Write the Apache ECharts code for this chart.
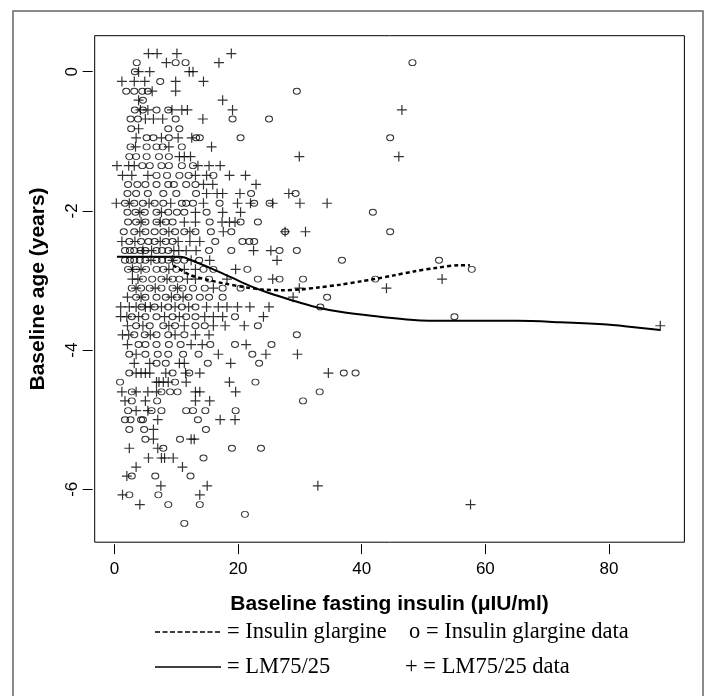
<!DOCTYPE html>
<html>
<head>
<meta charset="utf-8">
<script src="https://cdn.jsdelivr.net/npm/echarts@6/dist/echarts.min.js"></script>
<style>
html,body{margin:0;padding:0;background:#fff;}
#chart{width:711px;height:696px;}
</style>
</head>
<body>
<div id="chart"></div>
<script>
// baseline age rows (years), top to bottom
var ageRows = [0.26, 0.13, 0, -0.14, -0.28, -0.41, -0.55, -0.68, -0.82, -0.95,
  -1.08, -1.22, -1.35, -1.49, -1.62, -1.75, -1.89, -2.02, -2.16, -2.30,
  -2.44, -2.57, -2.71, -2.84, -2.98, -3.11, -3.24, -3.38, -3.52, -3.65,
  -3.78, -3.92, -4.06, -4.19, -4.33, -4.46, -4.60, -4.73, -4.87, -5.00,
  -5.14, -5.28, -5.41, -5.55, -5.68, -5.81, -5.95, -6.08, -6.22, -6.36, -6.49];

// fasting insulin of the Insulin glargine patients, one list per age row
var glargineInsulin = [
  [], [3.6, 9.9, 11.5, 48.2], [3.3], [7.4], [1.9, 3.2, 4.5, 5.4, 29.5],
  [4.6], [3.3, 4.6, 6.8, 8.7], [2.6, 3.8, 9.9, 19.1, 25.0], [2.7, 8.7, 10.5],
  [5.2, 6.3, 8.8, 13.2, 13.8, 20.4, 44.6],
  [2.6, 5.2, 6.8, 7.8, 10.9], [2.4, 3.5, 5.2, 7.2, 8.8], [4.5, 5.7, 7.6, 8.8, 10.9, 12.7],
  [6.8, 8.5, 10.5, 12.0, 16.0], [2.2, 3.7, 5.0, 6.8, 8.7, 9.6, 11.6, 13.1],
  [2.1, 3.5, 5.4, 7.9, 10.0, 13.2, 22.1, 29.3],
  [1.7, 3.2, 4.6, 6.5, 7.9, 10.9, 11.6, 12.7, 17.0, 22.6, 25.1],
  [2.1, 3.4, 4.9, 6.8, 8.7, 10.1, 11.3, 14.9, 41.8],
  [2.2, 3.5, 5.0, 6.8, 8.3, 9.4, 15.4, 20.4, 23.2],
  [1.5, 3.2, 5.0, 6.5, 7.9, 9.8, 11.3, 13.1, 15.6, 18.9, 27.6, 44.6],
  [2.4, 4.3, 5.5, 6.5, 8.3, 9.4, 16.3, 20.7, 21.8, 22.6],
  [1.7, 2.5, 3.2, 4.2, 5.0, 6.8, 7.7, 8.7, 15.3, 18.9, 26.7, 29.5],
  [1.7, 2.5, 3.2, 4.1, 5.0, 6.8, 7.7, 8.7, 10.1, 11.3, 13.7, 36.8, 52.5],
  [2.2, 3.5, 5.1, 6.8, 7.9, 10.0, 14.4, 16.0, 21.5, 57.8],
  [4.6, 6.1, 7.6, 9.4, 10.5, 15.3, 23.2, 26.7, 30.5, 42.2],
  [2.8, 4.3, 5.7, 7.6, 9.4, 11.0, 12.7, 14.6, 17.5, 20.4],
  [3.5, 5.0, 6.8, 8.3, 10.1, 12.0, 13.8, 15.3, 17.5, 34.4],
  [4.4, 6.5, 8.7, 10.9, 13.1, 33.3],
  [2.8, 5.0, 6.8, 9.4, 11.6, 13.1, 19.5, 55.0],
  [3.5, 5.7, 7.9, 9.8, 13.1, 14.6, 23.2],
  [3.2, 4.9, 6.8, 8.7, 11.3, 29.5],
  [3.9, 5.0, 6.8, 8.8, 10.7, 15.5, 19.5, 25.4],
  [2.4, 5.0, 7.0, 8.7, 11.1, 13.6, 22.3],
  [6.8, 8.3, 15.1, 23.4],
  [2.4, 9.4, 12.1, 37.1, 39.0],
  [0.9, 9.8, 22.8],
  [2.8, 7.6, 9.0, 10.2, 33.2],
  [2.8, 6.9, 30.5],
  [2.2, 6.0, 7.6, 11.6, 12.7, 14.7, 19.6],
  [1.7, 2.6, 4.3, 4.6, 13.5],
  [2.4, 4.8, 14.8], [5.0, 10.6], [7.9, 19.0, 23.7], [14.4], [],
  [2.8, 6.6, 12.3], [], [2.4, 7.1], [8.7, 13.8], [21.1], [11.3]
];

// fasting insulin of the LM75/25 patients, one list per age row
var lmInsulin = [
  [5.5, 6.9, 10.1, 18.9], [8.4, 16.9], [3.9, 5.7, 12.1, 12.7], [1.2, 3.2, 4.9, 9.9, 14.4],
  [6.1, 9.9], [3.9, 17.5], [4.2, 5.4, 9.3, 10.9, 11.8, 19.1, 46.5],
  [5.0, 6.3, 7.8, 14.3], [3.9], [3.5, 7.6, 10.3, 12.5],
  [3.4, 8.8, 15.7], [10.5, 11.3, 12.3, 29.9, 46.0], [0.4, 2.3, 3.2, 13.5, 15.3, 17.1],
  [1.3, 2.8, 5.4, 13.1, 14.9, 18.6, 21.2], [14.4, 15.9, 22.9],
  [14.9, 16.6, 17.5, 20.3, 28.2], [0.3, 2.4, 5.6, 9.1, 14.4, 19.9, 22.0, 25.6, 30.0, 34.4],
  [4.1, 7.6, 13.1, 17.5, 20.4], [4.3, 7.4, 11.3, 13.1, 17.4, 18.6, 19.5],
  [4.1, 8.8, 12.2, 17.6, 27.6, 30.9],
  [1.2, 3.3, 7.4, 10.3, 12.2, 13.8], [4.6, 6.0, 9.6, 10.4, 11.6, 13.2, 22.5, 25.3],
  [5.9, 9.4, 12.4, 15.4, 26.3],
  [2.9, 4.3, 8.8, 11.3, 13.1, 19.6], [2.9, 3.8, 8.5, 11.8, 13.1, 18.2, 25.6, 53.0],
  [3.5, 6.6, 10.2, 16.0, 29.9, 44.0],
  [2.1, 4.3, 9.2, 11.1, 28.9], [1.0, 2.4, 3.5, 5.0, 5.8, 7.6, 9.8, 12.0, 14.9, 16.8, 18.2, 19.9, 21.9, 25.0],
  [1.0, 2.0, 3.9, 8.1, 10.5, 14.6, 16.0, 17.5, 24.1], [2.1, 4.6, 8.8, 11.3, 16.0, 17.9, 21.0, 88.3],
  [1.3, 2.3, 5.8, 9.8, 13.1, 15.3], [2.1, 12.4, 14.2, 21.3], [3.5, 16.8, 24.5, 29.6],
  [3.2, 5.7, 10.5, 11.3, 18.8], [3.5, 4.3, 5.0, 5.7, 8.3, 11.5, 13.8, 34.6],
  [6.8, 7.2, 7.9, 8.7, 11.6, 18.6], [1.2, 3.5, 5.4, 6.8, 13.1, 13.8, 19.6],
  [1.7, 5.0, 13.1, 15.4], [3.5, 5.4], [7.0, 17.1, 19.5],
  [6.3], [6.3, 12.4, 12.9], [2.4, 7.0], [5.5, 7.6, 8.1, 9.5], [3.5, 11.0],
  [2.0], [7.5, 15.0, 32.9], [1.3, 13.8], [4.1, 57.6], [], []
];

// fitted curves
var glargineCurve = [[9.5, -2.78], [12.2, -2.92], [15, -2.99], [17.6, -3.04], [21.4, -3.10],
  [24, -3.13], [27, -3.14], [30, -3.13], [33, -3.10], [36.5, -3.06], [40, -3.01],
  [42, -2.98], [45, -2.93], [48.4, -2.87], [52, -2.82], [55.9, -2.78], [57.5, -2.78]];
var lmCurve = [[0.4, -2.66], [10.6, -2.66], [13, -2.73], [16, -2.84], [19, -2.96], [22, -3.08],
  [25, -3.18], [28.9, -3.29], [32.5, -3.38], [36.5, -3.45], [41.9, -3.51], [48.9, -3.57],
  [55.9, -3.58], [65.1, -3.58], [72.1, -3.60], [79, -3.63], [82.9, -3.66], [88.3, -3.71]];

var xTicks = [0, 20, 40, 60, 80];
var yTicks = [0, -2, -4, -6];

function toPoints(rows) {
  var pts = [];
  for (var i = 0; i < rows.length; i++) {
    for (var j = 0; j < rows[i].length; j++) {
      pts.push([rows[i][j], ageRows[i]]);
    }
  }
  return pts;
}

var plusPath = 'path://M4.4,0H5.6V4.4H10V5.6H5.6V10H4.4V5.6H0V4.4H4.4Z';
var sans = 'Liberation Sans';
var legendFont = '22.5px "Liberation Serif"';

var chart = echarts.init(document.getElementById('chart'));
chart.setOption({
  animation: false,
  backgroundColor: '#fff',
  grid: {
    left: 94.7, top: 35.7, width: 589.7, height: 506.5,
    show: true, borderColor: '#000', borderWidth: 1
  },
  xAxis: {
    type: 'value', min: -3.2, max: 92.2, offset: 2,
    splitLine: { show: false },
    axisLine: { show: false, onZero: false },
    axisTick: { show: true, customValues: xTicks, length: 10, lineStyle: { color: '#000' } },
    axisLabel: { customValues: xTicks, color: '#000', fontFamily: sans, fontSize: 17, margin: 17 },
    name: 'Baseline fasting insulin (\u03bcIU/ml)',
    nameLocation: 'middle', nameGap: 50,
    nameTextStyle: { color: '#000', fontFamily: sans, fontWeight: 'bold', fontSize: 21 }
  },
  yAxis: {
    type: 'value', min: -6.76, max: 0.517, offset: 2,
    splitLine: { show: false },
    axisLine: { show: false, onZero: false },
    axisTick: { show: true, customValues: yTicks, length: 10, lineStyle: { color: '#000' } },
    axisLabel: { customValues: yTicks, rotate: 90, color: '#000', fontFamily: sans, fontSize: 17, margin: 12 },
    name: 'Baseline age (years)',
    nameLocation: 'middle', nameGap: 44,
    nameTextStyle: { color: '#000', fontFamily: sans, fontWeight: 'bold', fontSize: 21 }
  },
  series: [
    {
      name: 'Insulin glargine data', type: 'scatter',
      data: toPoints(glargineInsulin),
      symbol: 'circle', symbolSize: [7, 6],
      itemStyle: { color: 'rgba(0,0,0,0)', borderColor: '#000', borderWidth: 1 }
    },
    {
      name: 'LM75/25 data', type: 'scatter',
      data: toPoints(lmInsulin),
      symbol: plusPath, symbolSize: 10,
      itemStyle: { color: '#000' }
    },
    {
      name: 'Insulin glargine', type: 'line', data: glargineCurve,
      showSymbol: false, smooth: 0.3,
      lineStyle: { color: '#000', width: 2.5, type: [4, 3] }
    },
    {
      name: 'LM75/25', type: 'line', data: lmCurve,
      showSymbol: false, smooth: 0.3,
      lineStyle: { color: '#000', width: 2 }
    }
  ],
  graphic: [
    { type: 'rect', shape: { x: 13, y: 11, width: 690, height: 700 },
      style: { fill: 'none', stroke: '#666', lineWidth: 1.5 }, silent: true },
    { type: 'line', shape: { x1: 155, y1: 632, x2: 221, y2: 632 },
      style: { stroke: '#000', lineWidth: 1.3, lineDash: [5, 2.5] } },
    { type: 'text', x: 227, y: 632,
      style: { text: '= Insulin glargine', font: legendFont, fill: '#000', verticalAlign: 'middle' } },
    { type: 'text', x: 409, y: 632,
      style: { text: 'o = Insulin glargine data', font: legendFont, fill: '#000', verticalAlign: 'middle' } },
    { type: 'line', shape: { x1: 155, y1: 667, x2: 221, y2: 667 },
      style: { stroke: '#000', lineWidth: 1.5 } },
    { type: 'text', x: 227, y: 667,
      style: { text: '= LM75/25', font: legendFont, fill: '#000', verticalAlign: 'middle' } },
    { type: 'text', x: 405, y: 667,
      style: { text: '+ = LM75/25 data', font: legendFont, fill: '#000', verticalAlign: 'middle' } }
  ]
});
</script>
</body>
</html>
